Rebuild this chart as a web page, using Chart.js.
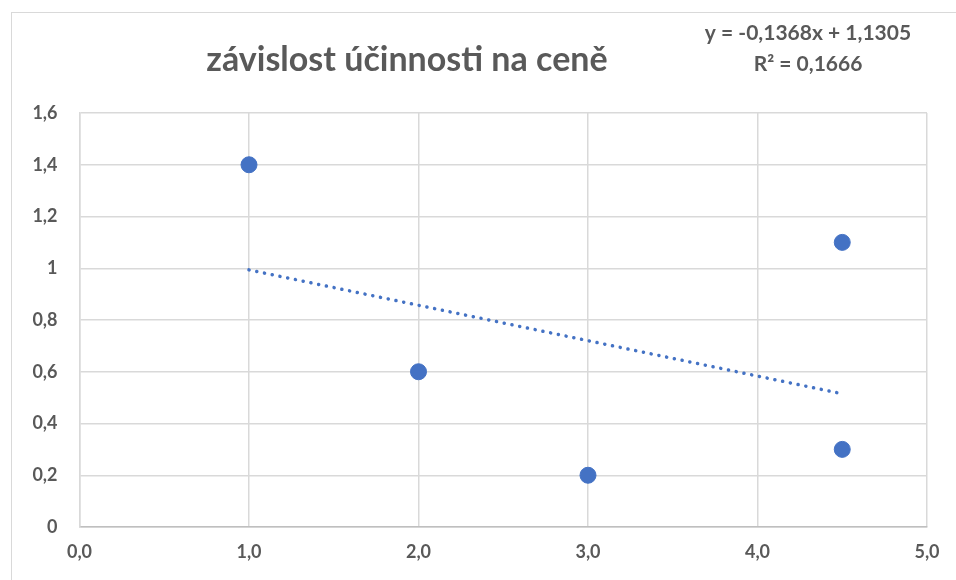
<!DOCTYPE html>
<html>
<head>
<meta charset="utf-8">
<script src="https://cdn.jsdelivr.net/npm/chart.js@4"></script>
<style>
  html, body { margin: 0; padding: 0; background: #fff; }
  #wrap { width: 956px; height: 580px; }
</style>
</head>
<body>
<div id="wrap"><canvas id="graf"></canvas></div>
<script>
// hodnoty grafu
const cena = [1, 2, 3, 4.5, 4.5];
const ucinnost = [1.4, 0.6, 0.2, 1.1, 0.3];
const xTicks = [0, 1, 2, 3, 4, 5];
const yTicks = [0, 0.2, 0.4, 0.6, 0.8, 1, 1.2, 1.4, 1.6];

// lineární spojnice trendu
const trendSlope = -0.1368;
const trendIntercept = 1.1305;
const trendR2 = 0.1666;
const trendX = [1, 4.5];

const titulek = 'závislost účinnosti na ceně';
const rovnice = 'y = -0,1368x + 1,1305';
const rovniceR2 = 'R² = 0,1666';

const sedy = '#595959';
const modra = '#4472C4';
const mrizka = '#d9d9d9';

const carka = (v, d) => v.toFixed(d).replace('.', ',');

const texty = {
  id: 'texty',
  beforeDraw(chart) {
    const c = chart.ctx;
    c.save();
    c.strokeStyle = '#d9d9d9';
    c.lineWidth = 1;
    c.strokeRect(11.5, 12.5, 1000, 1000);
    c.restore();
  },
  afterDraw(chart) {
    const c = chart.ctx;
    c.save();
    c.fillStyle = sedy;
    c.textAlign = 'center';
    c.textBaseline = 'middle';
    c.font = 'bold 34px Lato';
    c.fillText(titulek, 407, 60);
    c.font = 'bold 21px Lato';
    c.fillText(rovnice, 808, 33);
    c.fillText(rovniceR2, 808, 64);
    c.restore();
  }
};

const graf = new Chart(document.getElementById('graf'), {
  type: 'scatter',
  data: {
    datasets: [
      {
        label: 'účinnost',
        data: cena.map((x, i) => ({ x: x, y: ucinnost[i] })),
        backgroundColor: modra,
        borderColor: modra,
        pointRadius: 8,
        pointHoverRadius: 8,
        order: 1,
      },
      {
        label: 'trend',
        type: 'line',
        data: trendX.map(x => ({ x: x, y: trendSlope * x + trendIntercept })),
        borderColor: modra,
        borderWidth: 3.5,
        borderDash: [0.1, 7.8],
        borderCapStyle: 'round',
        pointRadius: 0,
        fill: false,
        order: 2,
      }
    ],
  },
  options: {
    responsive: true,
    maintainAspectRatio: false,
    animation: false,
    events: [],
    layout: { padding: { top: 113, right: 29, left: 0, bottom: 0 } },
    plugins: {
      legend: { display: false },
      title: { display: false },
      tooltip: { enabled: false },
    },
    scales: {
      x: {
        type: 'linear',
        min: 0,
        max: 5,
        afterBuildTicks: s => { s.ticks = xTicks.map(v => ({ value: v })); },
        afterFit: s => { s.height = 53; },
        grid: { color: mrizka, lineWidth: 1.5, drawTicks: false },
        border: { color: '#bfbfbf', width: 1.5 },
        ticks: {
          padding: 14,
          color: sedy,
          font: { family: 'Lato', size: 18, weight: 'bold' },
          callback: v => carka(v, 1),
        },
      },
      y: {
        min: 0,
        max: 1.6,
        afterBuildTicks: s => { s.ticks = yTicks.map(v => ({ value: v })); },
        afterFit: s => { s.width = 79.5; },
        grid: { color: mrizka, lineWidth: 1.5, drawTicks: false },
        border: { color: mrizka, width: 1.5 },
        ticks: {
          padding: 22,
          color: sedy,
          font: { family: 'Lato', size: 18, weight: 'bold' },
          callback: v => Number.isInteger(v) ? String(v) : carka(v, 1),
        },
      },
    },
  },
  plugins: [texty],
});
</script>
</body>
</html>
